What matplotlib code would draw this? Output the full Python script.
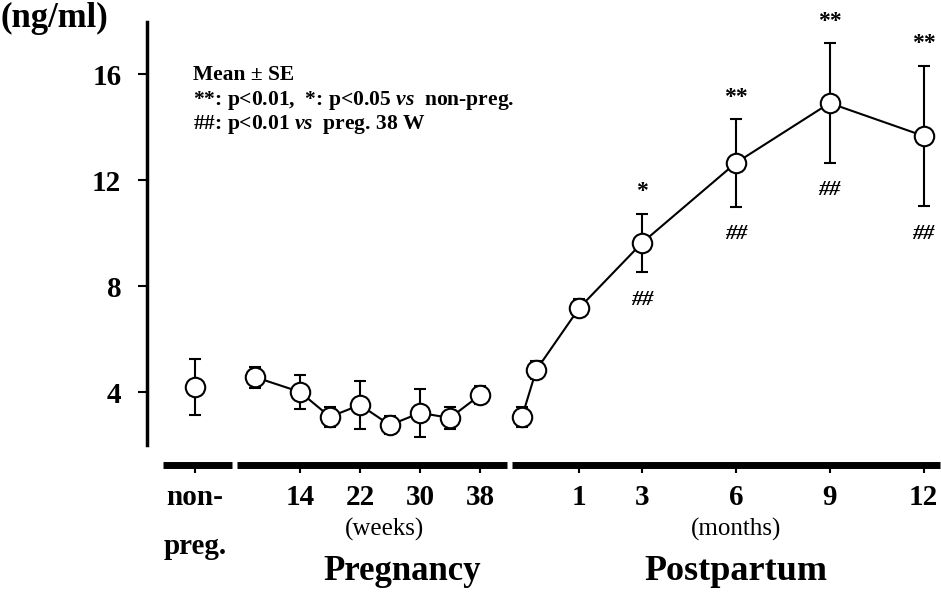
import numpy as np
import matplotlib
matplotlib.use("Agg")
import matplotlib.pyplot as plt
from matplotlib.transforms import blended_transform_factory

# ---- data (ng/ml, mean and SE) ----
nonpreg_mean = 4.2
nonpreg_se = 1.05

preg_weeks = [8, 14, 18, 22, 26, 30, 34, 38]
preg_mean = [4.58, 4.02, 3.08, 3.53, 2.77, 3.23, 3.04, 3.90]
preg_se = [0.40, 0.65, 0.38, 0.90, 0.35, 0.90, 0.42, 0.35]

pp_months = [0, 0.25, 1, 3, 6, 9, 12]
pp_mean = [3.08, 4.85, 7.19, 9.64, 12.66, 14.92, 13.68]
pp_se = [0.38, 0.35, 0.35, 1.10, 1.65, 2.25, 2.65]
pp_sig_vs_nonpreg = ["", "", "", "*", "**", "**", "**"]
pp_sig_vs_38w = ["", "", "", "##", "##", "##", "##"]

preg_tick_weeks = [14, 22, 30, 38]
pp_tick_months = [1, 3, 6, 9, 12]
y_ticks = [4, 8, 12, 16]

legend_lines = [
    "Mean ± SE",
    r"**: p<0.01,  *: p<0.05 $\mathit{vs}$  non-preg.",
    r"##: p<0.01 $\mathit{vs}$  preg. 38 W",
]

# ---- layout of the broken time axis (axis unit = one week of pregnancy) ----
NONPREG_POS = 0.0
PP_START, PP_ONE, PP_MONTH = 43.6, 51.24, 4.173


def pp_pos(months):
    m = np.asarray(months, dtype=float)
    return np.where(m < 1, PP_START + m * (PP_ONE - PP_START), PP_ONE + (m - 1) * PP_MONTH)


SERIF = "Liberation Serif"
plt.rcParams["font.family"] = SERIF
plt.rcParams["font.weight"] = "bold"
plt.rcParams["mathtext.fontset"] = "custom"
plt.rcParams["mathtext.rm"] = SERIF + ":bold"
plt.rcParams["mathtext.it"] = SERIF + ":italic:bold"

fig = plt.figure(figsize=(9.41, 5.94), dpi=100)
ax = fig.add_axes([147 / 941, 0.2172, 1 - 147 / 941, 0.7458])
ax.set_xlim(-6.4, 99.47)
ax.set_ylim(1.264, 17.98)

marker_kw = dict(marker="o", ms=14, mfc="white", mec="black", mew=1.5, zorder=3)
err_kw = dict(fmt="none", ecolor="black", elinewidth=1.5, capsize=4, capthick=1.5, zorder=2)

# non-pregnant
ax.errorbar([NONPREG_POS], [nonpreg_mean], yerr=[nonpreg_se], **err_kw)
ax.plot([NONPREG_POS], [nonpreg_mean], ls="none", **marker_kw)

# pregnancy
ax.errorbar(preg_weeks, preg_mean, yerr=preg_se, **err_kw)
ax.plot(preg_weeks, preg_mean, color="black", lw=1.5, **marker_kw)

# postpartum
pp_x = pp_pos(pp_months)
ax.errorbar(pp_x, pp_mean, yerr=pp_se, **err_kw)
ax.plot(pp_x, pp_mean, color="black", lw=1.5, **marker_kw)

for x, m, s, above, below in zip(pp_x, pp_mean, pp_se, pp_sig_vs_nonpreg, pp_sig_vs_38w):
    if above:
        ax.annotate(above, (x, m + s), xytext=(0, 16), textcoords="offset points",
                    ha="center", va="center", fontsize=17)
    if below:
        ax.annotate(below, (x, m - s), xytext=(0, -20), textcoords="offset points",
                    ha="center", va="center", fontsize=16, style="italic")

# axes: left spine only, x axis drawn as three thick segments
for side in ("top", "right", "bottom"):
    ax.spines[side].set_visible(False)
ax.spines["left"].set_linewidth(2.5)
ax.spines["left"].set_bounds(2.02, 17.98)

y_axis = ax.get_ylim()[0]
for x0, x1 in [(-4.27, 4.93), (5.6, 41.6), (42.27, 99.3)]:
    ax.plot([x0, x1], [y_axis, y_axis], color="black", lw=5, solid_capstyle="butt",
            clip_on=False, zorder=4)

ax.set_yticks(y_ticks)
ax.set_yticklabels([str(v) for v in y_ticks])
ax.tick_params(axis="y", direction="out", length=6.5, width=1.5, pad=12, labelsize=21)

xticks = [NONPREG_POS] + preg_tick_weeks + list(pp_pos(pp_tick_months))
xlabels = ["non-\npreg."] + [str(w) for w in preg_tick_weeks] + [str(m) for m in pp_tick_months]
ax.set_xticks(xticks)
ax.set_xticklabels(xlabels, linespacing=2.05)
ax.tick_params(axis="x", direction="out", length=6, width=1.5, pad=8, labelsize=21)

trans = blended_transform_factory(ax.transData, fig.transFigure)
ax.text(25.3, 0.108, "(weeks)", transform=trans, ha="center", va="center",
        fontsize=18, fontweight="normal")
ax.text(27.6, 0.038, "Pregnancy", transform=trans, ha="center", va="center", fontsize=25)
ax.text(float(pp_pos(6)), 0.108, "(months)", transform=trans, ha="center", va="center",
        fontsize=18, fontweight="normal")
ax.text(float(pp_pos(6)), 0.038, "Postpartum", transform=trans, ha="center", va="center",
        fontsize=26)

fig.text(0.0, 1 - 18 / 594, "(ng/ml)", ha="left", va="center", fontsize=25)

for i, line in enumerate(legend_lines):
    fig.text(193 / 941, 1 - (75 + 25 * i) / 594, line, ha="left", va="center", fontsize=15.5)

fig.savefig("out.png", dpi=100)
